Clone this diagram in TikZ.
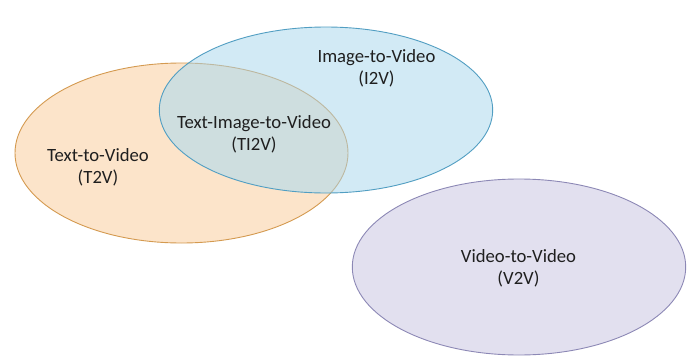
\documentclass[tikz,border=0pt]{standalone}
\usepackage{fontspec}
\setmainfont{Carlito}
\usetikzlibrary{shapes.geometric}

\definecolor{tvfill}{HTML}{FCE4CA}
\definecolor{tvline}{HTML}{D49A50}
\definecolor{ivfill}{HTML}{D2EAF5}
\definecolor{ivline}{HTML}{519EC2}
\definecolor{bothfill}{HTML}{CEDEDF}
\definecolor{bothline}{HTML}{BDB8A0}
\definecolor{vvfill}{HTML}{E2E0EF}
\definecolor{vvline}{HTML}{8C88B5}

\tikzset{
  setline/.style={line width=0.9pt},
  label/.style={align=center, font=\fontsize{18.7}{22}\selectfont, text=black!88},
}

\begin{document}
\begin{tikzpicture}[x=1pt, y=-1pt]
  \useasboundingbox (0,0) rectangle (691,356);

  % Text-to-Video set
  \fill[tvfill] (181.5,153) ellipse [x radius=166.5, y radius=90];
  % Image-to-Video set
  \fill[ivfill] (326,110) ellipse [x radius=166.7, y radius=83];
  % their common part
  \begin{scope}
    \clip (181.5,153) ellipse [x radius=166.5, y radius=90];
    \fill[bothfill] (326,110) ellipse [x radius=166.7, y radius=83];
  \end{scope}
  % outline of the T2V set: plain outside I2V, muted inside it
  \begin{scope}[even odd rule]
    \clip (0,0) rectangle (691,356) (326,110) ellipse [x radius=166.7, y radius=83];
    \draw[setline, tvline] (181.5,153) ellipse [x radius=166.5, y radius=90];
  \end{scope}
  \begin{scope}
    \clip (326,110) ellipse [x radius=166.7, y radius=83];
    \draw[setline, bothline] (181.5,153) ellipse [x radius=166.5, y radius=90];
  \end{scope}
  \draw[setline, ivline] (326,110) ellipse [x radius=166.7, y radius=83];

  % Video-to-Video set
  \filldraw[setline, fill=vvfill, draw=vvline] (519,267) ellipse [x radius=166.7, y radius=88];

  % labels
  \node[label] (t2v)  at (98,167)    {Text-to-Video\\(T2V)};
  \node[label] (ti2v) at (254,134.5) {Text-Image-to-Video\\(TI2V)};
  \node[label] (i2v)  at (376.5,68)  {Image-to-Video\\(I2V)};
  \node[label] (v2v)  at (518.5,268) {Video-to-Video\\(V2V)};
\end{tikzpicture}
\end{document}
